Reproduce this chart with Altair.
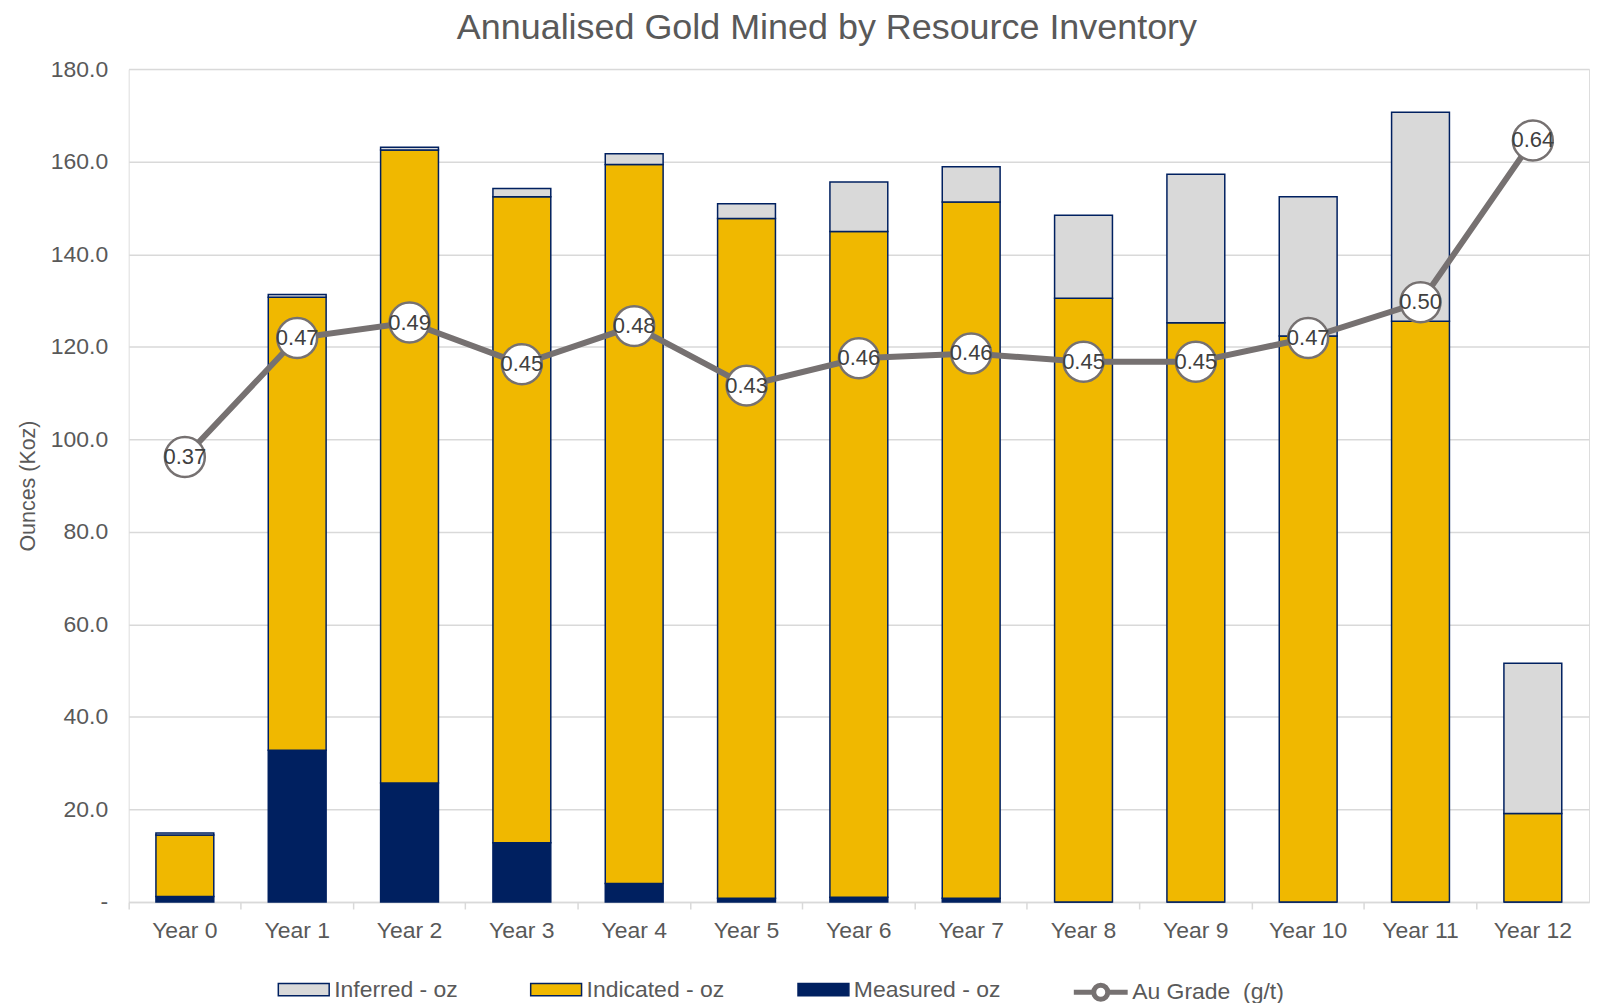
import altair as alt
import pandas as pd

years = ["Year 0", "Year 1", "Year 2", "Year 3", "Year 4", "Year 5", "Year 6",
         "Year 7", "Year 8", "Year 9", "Year 10", "Year 11", "Year 12"]
measured = [1.2, 32.8, 25.7, 12.8, 4.0, 0.8, 1.0, 0.8, 0.0, 0.0, 0.0, 0.0, 0.0]
indicated = [13.3, 97.9, 136.8, 139.6, 155.4, 146.9, 143.9, 150.5, 130.5, 125.2, 122.3, 125.5, 19.1]
inferred = [0.4, 0.6, 0.6, 1.8, 2.3, 3.2, 10.7, 7.6, 17.9, 32.1, 30.1, 45.2, 32.5]
grade = [0.374, 0.474, 0.487, 0.452, 0.484, 0.434, 0.457, 0.461, 0.454, 0.454, 0.474, 0.504, 0.640]

series_names = ["Inferred - oz", "Indicated - oz", "Measured - oz"]
series_colors = ["#D9D9D9", "#F0B800", "#002060"]
grade_name = "Au Grade\u00a0\u00a0(g/t)"

rows = []
for i, y in enumerate(years):
    rows.append({"year": y, "series": "Measured - oz", "value": measured[i], "order": 0})
    rows.append({"year": y, "series": "Indicated - oz", "value": indicated[i], "order": 1})
    rows.append({"year": y, "series": "Inferred - oz", "value": inferred[i], "order": 2})
bars_df = pd.DataFrame(rows)
grade_df = pd.DataFrame({"year": years, "grade": grade, "name": grade_name})

FONT = "Liberation Sans"
TXT = "#595959"
W, H = 1464, 835

x_enc = alt.X("year:N", sort=years, title=None,
              scale=alt.Scale(paddingInner=0, paddingOuter=0),
              axis=alt.Axis(bandPosition=0, labelAngle=0,
                            labelFontSize=23, labelColor=TXT, labelFont=FONT,
                            labelPadding=11, tickSize=7, tickColor="#D9D9D9",
                            tickWidth=1.5, domainColor="#D9D9D9", domainWidth=1.5,
                            grid=False))

bars = alt.Chart(bars_df).mark_bar(size=58, stroke="#002060", strokeWidth=1.5).encode(
    x=x_enc,
    y=alt.Y("value:Q", stack="zero",
            scale=alt.Scale(domain=[0, 180], nice=False),
            axis=alt.Axis(values=list(range(0, 181, 20)),
                          labelExpr="datum.value == 0 ? '-' : format(datum.value, '.1f')",
                          labelFontSize=23, labelColor=TXT, labelFont=FONT,
                          labelPadding=21, ticks=False, tickSize=0, domain=False,
                          gridColor="#D9D9D9", gridWidth=1.5,
                          title="Ounces (Koz)", titleFontSize=21.5, titleFont=FONT,
                          titleColor=TXT, titleFontWeight="normal",
                          titleX=-89, titlePadding=0)),
    fill=alt.Fill("series:N", scale=alt.Scale(domain=series_names, range=series_colors),
                  legend=alt.Legend(orient="none", legendX=149, legendY=896,
                                    direction="horizontal", columns=3, title=None,
                                    columnPadding=70,
                                    symbolType="M-1,-0.24H1V0.24H-1Z", symbolSize=2601,
                                    symbolStrokeColor="#002060", symbolStrokeWidth=1.5,
                                    labelFontSize=23, labelColor=TXT, labelFont=FONT,
                                    labelOffset=4)),
    order=alt.Order("order:Q"),
)

gscale = alt.Scale(domain=[0, 0.7], nice=False)

line = alt.Chart(grade_df).mark_line(strokeWidth=6).encode(
    x=alt.X("year:N", sort=years),
    y=alt.Y("grade:Q", scale=gscale, axis=None),
    stroke=alt.Stroke("name:N", scale=alt.Scale(domain=[grade_name], range=["#767171"]),
                      legend=alt.Legend(orient="none", legendX=945, legendY=896, title=None,
                                        symbolType="M-1,0L-0.26,0A0.26,0.26 0 1 1 0.26,0A0.26,0.26 0 1 1 -0.26,0M0.26,0L1,0",
                                        symbolSize=2916, symbolStrokeWidth=5,
                                        symbolFillColor="white",
                                        labelFontSize=23, labelColor=TXT, labelFont=FONT,
                                        labelOffset=2)),
)

points = alt.Chart(grade_df).mark_point(filled=True, fill="white", stroke="#767171",
                                        strokeWidth=2.5, size=1600, opacity=1).encode(
    x=alt.X("year:N", sort=years),
    y=alt.Y("grade:Q", scale=gscale, axis=None),
)

labels = alt.Chart(grade_df).mark_text(fontSize=22, color="#404040", font=FONT,
                                       baseline="middle", align="center").encode(
    x=alt.X("year:N", sort=years),
    y=alt.Y("grade:Q", scale=gscale, axis=None),
    text=alt.Text("grade:Q", format=".2f"),
)

chart = alt.layer(bars, line, points, labels).resolve_scale(
    y="independent", fill="independent", stroke="independent"
).properties(
    width=W, height=H,
    autosize=alt.AutoSizeParams(type="none"),
    padding={"left": 121, "top": 60, "right": 4, "bottom": 100},
    title=alt.TitleParams("Annualised Gold Mined by Resource Inventory",
                          fontSize=36, font=FONT, color=TXT, fontWeight="normal",
                          anchor="middle", dx=-32, offset=11),
).configure_view(stroke=None).configure(background="white")

chart.save("out.html", embed_options={"renderer": "svg", "actions": False})
